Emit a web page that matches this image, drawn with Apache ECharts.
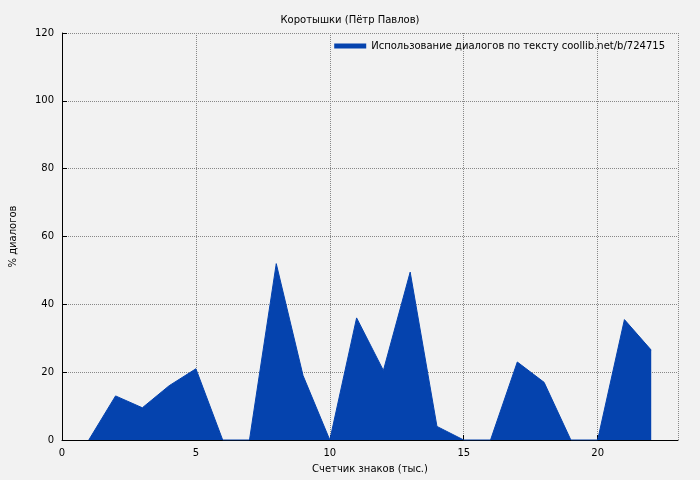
<!DOCTYPE html>
<html>
<head>
<meta charset="utf-8">
<script src="https://cdn.jsdelivr.net/npm/echarts@6/dist/echarts.min.js"></script>
<style>html,body{margin:0;background:#f2f2f2}#chart{width:700px;height:480px}</style>
</head>
<body>
<div id="chart"></div>
<script>
var xs = [1, 2, 3, 4, 5, 6, 7, 8, 9, 10, 11, 12, 13, 14, 15, 16, 17, 18, 19, 20, 21, 22];
var pct = [0, 13, 9.5, 16, 21, 0, 0, 52, 19, 0, 36, 20.5, 49.5, 4, 0, 0, 23, 17, 0, 0, 35.5, 26.5];
var seriesName = 'Использование диалогов по тексту coollib.net/b/724715';

var chart = echarts.init(document.getElementById('chart'));
var font = 'DejaVu Sans';
chart.setOption({
    backgroundColor: '#f2f2f2',
    animation: false,
    textStyle: {fontFamily: font},
    title: {
        text: 'Коротышки (Пётр Павлов)',
        left: 'center', top: 10,
        textStyle: {fontSize: 10, fontWeight: 'normal', color: '#000', fontFamily: font}
    },
    legend: {
        right: 30, top: 36,
        itemWidth: 32, itemHeight: 5, itemGap: 8,
        icon: 'rect',
        textStyle: {fontSize: 10, color: '#000', fontFamily: font},
        data: [seriesName]
    },
    grid: {left: 61, right: 22, top: 33, bottom: 40},
    xAxis: {
        type: 'value', min: 0, max: 23, interval: 5,
        name: 'Счетчик знаков (тыс.)', nameLocation: 'middle', nameGap: 24,
        nameTextStyle: {fontSize: 10, color: '#000'},
        axisLine: {lineStyle: {color: '#000'}},
        axisTick: {inside: true, lineStyle: {color: '#000'}},
        axisLabel: {fontSize: 10, color: '#000', showMaxLabel: false},
        splitLine: {lineStyle: {type: 'dotted', color: '#888'}}
    },
    yAxis: {
        type: 'value', min: 0, max: 120, interval: 20,
        name: '% диалогов', nameLocation: 'middle', nameGap: 44,
        nameTextStyle: {fontSize: 10, color: '#000'},
        axisLine: {show: true, lineStyle: {color: '#000'}},
        axisTick: {show: true, inside: true, lineStyle: {color: '#000'}},
        axisLabel: {fontSize: 10, color: '#000'},
        splitLine: {lineStyle: {type: 'dotted', color: '#888'}}
    },
    series: [{
        name: seriesName,
        type: 'line',
        data: xs.map(function (x, i) { return [x, pct[i]]; }),
        symbol: 'none',
        itemStyle: {color: '#0543ae'},
        lineStyle: {width: 1, color: '#0543ae'},
        areaStyle: {color: '#0543ae', opacity: 1}
    }]
});
</script>
</body>
</html>
